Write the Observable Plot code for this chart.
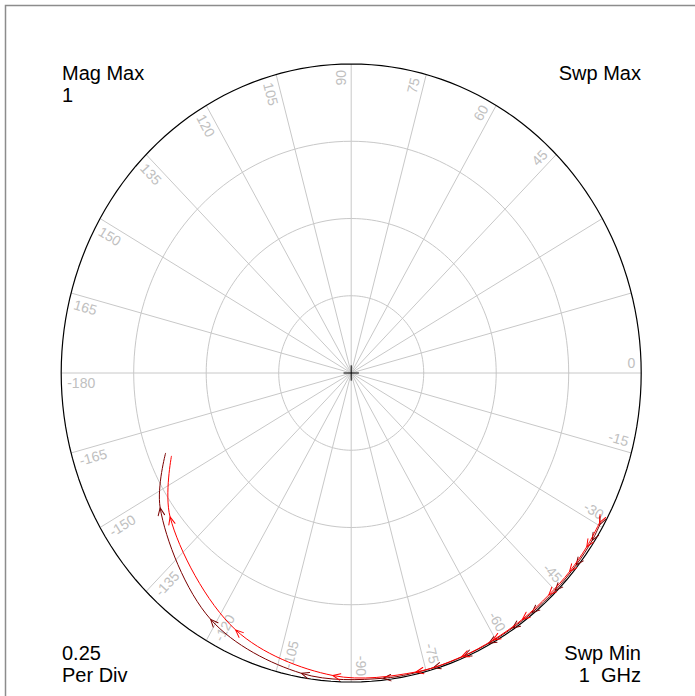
<!DOCTYPE html>
<html>
<head>
<meta charset="utf-8">
<script src="https://cdn.jsdelivr.net/npm/d3@7"></script>
<script src="https://cdn.jsdelivr.net/npm/@observablehq/plot@0.6"></script>
<style>
  html, body { margin: 0; padding: 0; background: white; overflow: hidden; }
  #chart svg { display: block; }
</style>
</head>
<body>
<div id="chart"></div>
<script>
// ---- data ----
const ringMags = [0.25, 0.5, 0.75];
const outerMag = [1];
const spokeAngles = [-180, -165, -150, -135, -120, -105, -90, -75, -60, -45, -30, -15,
                     0, 15, 30, 45, 60, 75, 90, 105, 120, 135, 150, 165];
const labelAngles = [0, 45, 60, 75, 90, 105, 120, 135, 150, 165, -180,
                     -165, -150, -135, -120, -105, -90, -75, -60, -45, -30, -15];
const labelTexts = ["0", "45", "60", "75", "90", "105", "120", "135", "150", "165", "-180",
                    "-165", "-150", "-135", "-120", "-105", "-90", "-75", "-60", "-45", "-30", "-15"];

// trace 1 (dark red), points in sweep order: angle (deg), magnitude
const darkAngles = [-29.8, -33.1, -38.7, -45, -51.2, -56, -61.5, -67, -73.5, -83.6, -100, -121.3, -146.5, -157.9];
const darkMags   = [0.988, 0.992, 0.994, 0.995, 0.995, 0.995, 0.995, 0.995, 0.995, 0.994, 0.987, 0.933, 0.79, 0.691];
// trace 2 (red)
const redAngles = [-29.5, -34.7, -40.5, -46.5, -53.5, -60.5, -67.5, -77, -93.7, -115.6, -143.3, -156.5];
const redMags   = [0.984, 0.988, 0.99, 0.99, 0.992, 0.993, 0.994, 0.993, 0.981, 0.922, 0.779, 0.676];

const cornerTopLeft = ["Mag Max", "1"];
const cornerTopRight = ["Swp Max"];
const cornerBottomLeft = ["0.25", "Per Div"];
const cornerBottomRight = ["Swp Min", "1\u00a0\u00a0GHz"];

// ---- geometry helpers ----
const X_RANGE = [60.7, 640.7];
const Y_RANGE = [681.5, 63.5];
const SX = (X_RANGE[1] - X_RANGE[0]) / 2;
const SY = (Y_RANGE[0] - Y_RANGE[1]) / 2;
const rad = (a) => a * Math.PI / 180;

const circlePts = (mags) => mags.flatMap((r) =>
  d3.range(0, 361, 2).map((a) => ({r, x: r * Math.cos(rad(a)), y: r * Math.sin(rad(a))})));

const trace = (angles, mags) => angles.map((a, i) => ({
  x: mags[i] * Math.cos(rad(a)),
  y: mags[i] * Math.sin(rad(a))
}));

const ALONG = 6, PERP = 5;
const labelRows = labelAngles.map((a, i) => {
  const t = rad(a);
  const phi = Math.atan2(SY * Math.sin(t), SX * Math.cos(t));
  const ux = Math.cos(phi), uy = Math.sin(phi);
  const nx = -uy, ny = ux;
  const endType = Math.abs(a) <= 90;
  const px = SX * Math.cos(t) - ALONG * ux + PERP * nx;
  const py = SY * Math.sin(t) - ALONG * uy + PERP * ny;
  const phiDeg = phi * 180 / Math.PI;
  return {x: px / SX, y: py / SY, text: labelTexts[i],
          rotate: endType ? -phiDeg : 180 - phiDeg, endType};
});

function arrowHead(color) {
  const m = d3.create("svg:marker")
    .attr("viewBox", "-10 -6 12 12")
    .attr("markerWidth", 12).attr("markerHeight", 12)
    .attr("refX", 0).attr("refY", 0)
    .attr("markerUnits", "userSpaceOnUse")
    .attr("orient", "auto")
    .attr("overflow", "visible");
  m.append("path").attr("d", "M-7.5,-3.2L0,0L-7.5,3.2")
    .attr("fill", "none").attr("stroke", color).attr("stroke-width", 1);
  return m.node();
}

const FONT = "Liberation Sans, Arial, Helvetica, sans-serif";
const LABEL_COLOR = "#c0c0c0";
const GRID_COLOR = "#c8c8c8";

function cornerText(lines, anchor, dx, dys) {
  return lines.map((t, i) => Plot.text([t], {
    frameAnchor: "top-left", text: (d) => d, textAnchor: anchor, lineAnchor: "bottom",
    dx, dy: dys[i], fontSize: 20, fontFamily: FONT, fill: "black"
  }));
}

function build(marker) {
  return Plot.plot({
    width: 695, height: 696, margin: 0,
    x: {domain: [-1, 1], range: X_RANGE, axis: null},
    y: {domain: [-1, 1], range: Y_RANGE, axis: null},
    style: {background: "white", fontFamily: FONT, overflow: "hidden"},
    marks: [
      Plot.frame({stroke: "#8c8c8c", strokeWidth: 1.5, insetLeft: 5, insetTop: 5, insetRight: -3, insetBottom: -3}),
      Plot.line(circlePts(ringMags), {x: "x", y: "y", z: "r", stroke: GRID_COLOR, strokeWidth: 1}),
      Plot.link(spokeAngles, {x1: () => 0, y1: () => 0,
        x2: (a) => Math.cos(rad(a)), y2: (a) => Math.sin(rad(a)),
        stroke: GRID_COLOR, strokeWidth: 1}),
      Plot.text(labelRows.filter((d) => d.endType), {x: "x", y: "y", text: "text", rotate: "rotate",
        textAnchor: "end", lineAnchor: "bottom", fontSize: 14, fontFamily: FONT, fill: LABEL_COLOR}),
      Plot.text(labelRows.filter((d) => !d.endType), {x: "x", y: "y", text: "text", rotate: "rotate",
        textAnchor: "start", lineAnchor: "top", fontSize: 14, fontFamily: FONT, fill: LABEL_COLOR}),
      Plot.line(circlePts(outerMag), {x: "x", y: "y", stroke: "black", strokeWidth: 1.2}),
      Plot.dot([0], {x: () => 0, y: () => 0, symbol: "plus", r: 5, stroke: "black", strokeWidth: 1}),
      Plot.line(trace(darkAngles, darkMags), {x: "x", y: "y", curve: "catmull-rom",
        stroke: "#7a0000", strokeWidth: 1, markerStart: marker, markerMid: marker}),
      Plot.line(trace(redAngles, redMags), {x: "x", y: "y", curve: "catmull-rom",
        stroke: "#ff0000", strokeWidth: 1, markerStart: marker, markerMid: marker}),
      ...cornerText(cornerTopLeft, "start", 61.5, [79, 101]),
      ...cornerText(cornerTopRight, "end", 640.5, [79]),
      ...cornerText(cornerBottomLeft, "start", 61.5, [659, 681]),
      ...cornerText(cornerBottomRight, "end", 640.5, [659, 681])
    ]
  });
}

let chart;
try {
  chart = build(arrowHead);
} catch (e) {
  chart = build("arrow");
  d3.select(chart).selectAll("marker").each(function () {
    const m = d3.select(this);
    const color = m.attr("stroke") || "black";
    m.attr("viewBox", "-10 -6 12 12").attr("markerWidth", 12).attr("markerHeight", 12)
      .attr("markerUnits", "userSpaceOnUse").attr("stroke-width", 1);
    m.select("path").attr("d", "M-7.5,-3.2L0,0L-7.5,3.2").attr("stroke", color);
  });
}
document.getElementById("chart").append(chart);
</script>
</body>
</html>
